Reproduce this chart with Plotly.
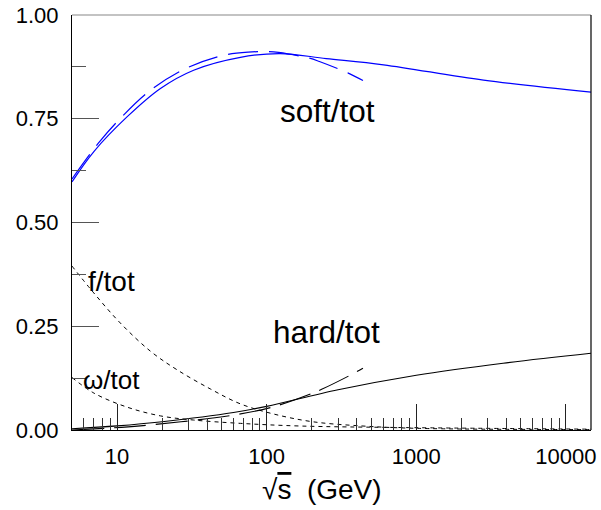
import math
import plotly.graph_objects as go

# ---- data ----
soft_solid_x = [5, 7, 11.7, 19.5, 32.5, 66.7, 123, 250, 604, 2810, 14700]
soft_solid_y = [0.598, 0.671, 0.755, 0.823, 0.867, 0.898, 0.907, 0.895, 0.880, 0.843, 0.814]

soft_dash_x = [5, 7.5, 10.4, 16.5, 28.7, 53, 80, 101, 120, 193, 225, 351, 440]
soft_dash_y = [0.605, 0.691, 0.749, 0.817, 0.871, 0.904, 0.911, 0.912, 0.910, 0.896, 0.888, 0.860, 0.842]

hard_solid_x = [5, 10, 20, 60, 100, 300, 1000, 3800, 14700]
hard_solid_y = [0.003, 0.010, 0.020, 0.042, 0.057, 0.097, 0.132, 0.161, 0.185]

hard_dash_x = [5, 14.3, 60, 111, 200, 233, 366, 440]
hard_dash_y = [0.0, 0.010, 0.036, 0.056, 0.088, 0.098, 0.133, 0.149]

f_x = [5, 7, 10.5, 16.7, 25.2, 42, 66.7, 110, 202, 440, 1013, 14700]
f_y = [0.395, 0.330, 0.258, 0.190, 0.145, 0.099, 0.063, 0.039, 0.020, 0.0096, 0.004, 0.001]

w_x = [5, 7, 11.7, 19.5, 32.5, 66.7, 168, 780, 14700]
w_y = [0.1265, 0.089, 0.055, 0.034, 0.024, 0.016, 0.0096, 0.006, 0.002]

x_major = [10, 100, 1000, 10000]
x_major_text = ["10", "100", "1000", "10000"]
x_minor = [m * d for d in (1, 10, 100, 1000) for m in range(2, 10) if 5 < m * d < 14700]
y_major = [0.0, 0.25, 0.5, 0.75, 1.0]
y_major_text = ["0.00", "0.25", "0.50", "0.75", "1.00"]

FONT = "Liberation Sans, Arial, Helvetica, sans-serif"

fig = go.Figure()
fig.add_trace(go.Scatter(x=soft_solid_x, y=soft_solid_y, mode="lines", line_shape="spline",
                         line=dict(color="#0000ff", width=1.2)))
fig.add_trace(go.Scatter(x=soft_dash_x, y=soft_dash_y, mode="lines", line_shape="spline",
                         line=dict(color="#0000ff", width=1.2, dash="30px,11px")))
fig.add_trace(go.Scatter(x=hard_solid_x, y=hard_solid_y, mode="lines", line_shape="spline",
                         line=dict(color="#000000", width=1.1)))
fig.add_trace(go.Scatter(x=hard_dash_x, y=hard_dash_y, mode="lines", line_shape="spline",
                         line=dict(color="#000000", width=1.1, dash="32px,10px")))
fig.add_trace(go.Scatter(x=f_x, y=f_y, mode="lines", line_shape="spline",
                         line=dict(color="#000000", width=1, dash="4px,4px")))
fig.add_trace(go.Scatter(x=w_x, y=w_y, mode="lines", line_shape="spline",
                         line=dict(color="#000000", width=1, dash="4px,4px")))

fig.update_layout(
    width=601, height=510,
    margin=dict(l=72, r=10, t=15, b=80, autoexpand=False),
    paper_bgcolor="white", plot_bgcolor="white",
    showlegend=False,
    font=dict(family=FONT, size=22, color="black"),
)
fig.update_xaxes(
    type="log", range=[math.log10(5), math.log10(14700)], automargin=False,
    tickvals=x_major, ticktext=x_major_text,
    ticks="inside", ticklen=26, tickwidth=1, tickcolor="#222",
    showline=True, linecolor="black", linewidth=1.2, mirror=False,
    showgrid=False, zeroline=False, ticklabelstandoff=6,
    minor=dict(tickvals=x_minor, ticks="inside", ticklen=12, tickwidth=1, tickcolor="#333", showgrid=False),
)
fig.update_yaxes(
    range=[0, 1], automargin=False,
    tickvals=y_major, ticktext=y_major_text,
    ticks="inside", ticklen=27, tickwidth=1.2, tickcolor="#555",
    showline=True, linecolor="black", linewidth=1.2, mirror=False,
    showgrid=False, zeroline=False, ticklabelstandoff=8,
    minor=dict(dtick=0.125, ticks="inside", ticklen=14, tickwidth=1.2, tickcolor="#555", showgrid=False),
)

# frame top (gray) and right (black)
fig.add_shape(type="line", xref="paper", yref="paper", x0=0, x1=1, y0=1, y1=1,
              line=dict(color="#888", width=1.2))
fig.add_shape(type="line", xref="paper", yref="paper", x0=1, x1=1, y0=0, y1=1,
              line=dict(color="black", width=1.2))

def px2paper(px, py):
    return (px - 72) / 519.0, (430 - py) / 415.0

labels = [
    ("soft/tot", 327.5, 111, 31.5),
    ("hard/tot", 326, 332, 31.5),
    ("f/tot", 111, 281, 28),
    ("ω/tot", 111, 380, 26),
]
for txt, px, py, fs in labels:
    ax, ay = px2paper(px, py)
    fig.add_annotation(text=txt, x=ax, y=ay, xref="paper", yref="paper",
                       showarrow=False, xanchor="center", yanchor="middle",
                       font=dict(family=FONT, size=fs, color="black"))

tx, ty = px2paper(321.5, 489)
fig.add_annotation(text="√<span style='text-decoration:overline'>s</span>  (GeV)",
                   x=tx, y=ty, xref="paper", yref="paper", showarrow=False,
                   xanchor="center", yanchor="middle",
                   font=dict(family=FONT, size=28, color="black"))

fig.write_html("out.html", config={"displayModeBar": False},
               post_script="document.body.style.margin='0px';")
